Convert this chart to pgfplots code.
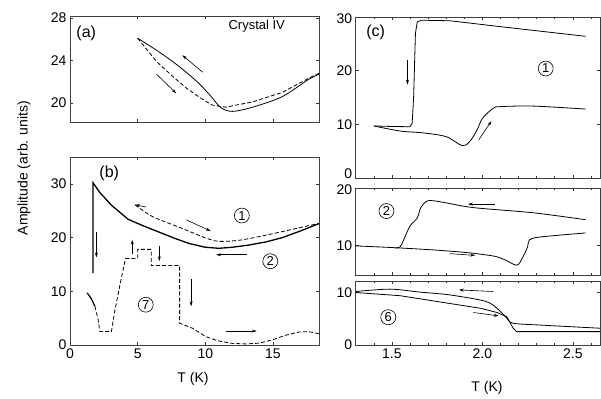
\documentclass[border=0pt]{standalone}
\usepackage{fontspec}
\setmainfont{Liberation Sans}
\usepackage{pgfplots}
\pgfplotsset{compat=1.18}
\usetikzlibrary{arrows.meta}
\tikzset{
  dsh/.style={dash pattern=on 4pt off 2.2pt},
  arr/.style={-{Stealth[length=5pt,width=3pt]}, line width=0.6pt},
  cnum/.style={circle, draw, line width=0.6pt, inner sep=1.2pt, font=\fontsize{13}{13}\selectfont}
}
\pgfplotsset{
  base/.style={scale only axis, tick align=inside,
    /pgf/number format/assume math mode=true,
    tick label style={font=\fontsize{14}{14}\selectfont},
    major tick length=3pt, minor tick length=2pt,
    tick style={black!80, line width=0.6pt},
    axis line style={black!75, line width=0.8pt},
    cycle list={{black, mark=none}},
    every axis plot/.append style={black, line width=0.8pt, mark=none},
    clip=true},
  leftp/.style={base, width=249pt, xmin=0, xmax=18.4, xtick={0,5,10,15}},
  rightp/.style={base, width=244.3pt, xmin=1.3, xmax=2.65, xtick={1.5,2.0,2.5},
    minor xtick={1.3,1.4,1.6,1.7,1.8,1.9,2.1,2.2,2.3,2.4,2.6},
    xticklabel style={/pgf/number format/.cd, fixed, fixed zerofill, precision=1}}
}
\begin{document}
\begin{tikzpicture}
\useasboundingbox (0pt,0pt) rectangle (601pt,-398pt);
% ---------- panel (a)
\begin{axis}[leftp, at={(70pt,-16pt)}, anchor=north west, height=106pt,
  ymin=18.2, ymax=28.2, ytick={20,24,28}, xticklabels={}]
\addplot[black, smooth] coordinates {(5.0,26.1) (6.0,25.3) (7.1,24.35) (8.3,23.2) (9.56,21.8) (10.5,20.5) (11.15,19.55) (12.0,19.2) (13.5,19.6) (15.7,20.6) (17.6,22.2) (18.4,22.7)};
\addplot[black, dsh] coordinates {(5.0,26.1) (6.4,23.9) (7.5,22.6) (8.6,21.4) (9.6,20.5) (10.5,19.8) (11.5,19.6) (13.5,20.1) (15.7,21.0) (17.6,22.3) (18.4,22.8)};
\draw[arr] (axis cs:9.8,22.9) -- (axis cs:8.3,24.5);
\draw[arr] (axis cs:6.4,22.7) -- (axis cs:7.85,20.9);
\node[font=\fontsize{16}{16}\selectfont] at (axis cs:1.2,26.6) {(a)};
\node[font=\fontsize{13}{13}\selectfont] at (axis cs:13.8,27.2) {Crystal IV};
\end{axis}
% ---------- panel (b)
\begin{axis}[leftp, at={(70pt,-157pt)}, anchor=north west, height=188pt,
  ymin=0, ymax=35, ytick={0,10,20,30}]
\addplot[black, line width=1.3pt] coordinates {(1.7,13.4) (1.7,30.2) (2.2,28.4) (3.07,26.0) (4.3,23.4) (5.4,22.2) (6.6,21.0) (7.8,19.8) (8.8,18.9) (10.0,18.2) (11.0,18.0) (12.0,18.2) (13.2,18.6) (14.5,19.2) (15.7,20.0) (17.0,21.2) (18.4,22.6)};
\addplot[black, dsh, smooth] coordinates {(4.8,26.1) (6.1,23.9) (8.1,21.9) (10.05,19.9) (11.0,19.3) (12.5,19.5) (14.2,20.3) (16.2,21.4) (17.6,22.2) (18.4,22.6)};
\addplot[black, line width=1.2pt, smooth] coordinates {(1.27,9.7) (1.55,8.7) (1.84,7.2)};
\addplot[black, dsh] coordinates {(1.84,7.2) (2.08,4.7) (2.2,2.5) (3.06,2.5) (3.3,6.2) (3.7,11.3) (4.1,16.1) (5.0,16.1) (5.0,17.8) (6.0,17.8) (6.0,14.8) (8.1,14.8) (8.1,4.05) (9.07,3.1) (10.0,1.6) (10.9,0.8) (12.0,0.3) (13.0,0.2) (14.0,0.35) (15.0,1.0) (15.9,1.8) (16.9,2.4) (17.6,2.5) (18.4,2.1)};
\draw[arr] (axis cs:1.95,21) -- (axis cs:1.95,16.3);
\draw[arr] (axis cs:5.6,25.7) -- (axis cs:4.8,26.1);
\draw[arr] (axis cs:8.6,23.3) -- (axis cs:10.4,21.2);
\draw[arr] (axis cs:13.1,16.8) -- (axis cs:10.8,16.8);
\draw[arr] (axis cs:4.6,16.9) -- (axis cs:4.6,19.6);
\draw[arr] (axis cs:6.6,18.4) -- (axis cs:6.6,15.6);
\draw[arr] (axis cs:8.95,12.2) -- (axis cs:8.95,7.2);
\draw[arr] (axis cs:11.5,2.6) -- (axis cs:13.8,2.6);
\node[cnum] at (axis cs:12.7,24.1) {1};
\node[cnum] at (axis cs:14.8,15.6) {2};
\node[cnum] at (axis cs:5.6,7.5) {7};
\node[font=\fontsize{16}{16}\selectfont] at (axis cs:2.9,32.0) {(b)};
\end{axis}
% ---------- panel (c) top
\begin{axis}[rightp, at={(355.7pt,-17pt)}, anchor=north west, height=161pt,
  ymin=0, ymax=30, ytick={0,10,20,30},
  yticklabels={\raisebox{4pt}[\height][\depth]{0},10,20,\raisebox{-2pt}[\height][\depth]{30}}, xticklabels={}]
\addplot[black] coordinates {(1.40,9.7) (1.50,9.6) (1.60,9.55) (1.612,10.2) (1.62,15) (1.63,26.9) (1.64,29.1) (1.665,29.4) (1.82,29.3) (2.1,28.2) (2.57,26.4)};
\addplot[black, smooth] coordinates {(1.40,9.7) (1.546,8.75) (1.675,8.4) (1.80,7.7) (1.89,6.0) (1.93,6.8) (1.97,8.9) (2.0,11.1) (2.06,13.0) (2.10,13.3) (2.28,13.4) (2.57,12.85)};
\draw[arr] (axis cs:1.586,22) -- (axis cs:1.586,17.4);
\draw[arr] (axis cs:1.98,7.1) -- (axis cs:2.05,10.6);
\node[cnum] at (axis cs:2.35,20.4) {1};
\node[font=\fontsize{16}{16}\selectfont] at (axis cs:1.41,27.2) {(c)};
\end{axis}
% ---------- panel (c) middle
\begin{axis}[rightp, at={(355.7pt,-188pt)}, anchor=north west, height=87pt,
  ymin=4.9, ymax=20, ytick={10,20}, yticklabels={10,\raisebox{-1.5pt}[\height][\depth]{20}}, xticklabels={}]
\addplot[black, smooth] coordinates {(2.57,14.5) (2.28,15.7) (1.95,16.6) (1.785,17.5) (1.70,17.8) (1.66,16.6) (1.64,14.8) (1.60,13.4) (1.565,11.0) (1.546,9.8) (1.52,9.55)};
\addplot[black, smooth] coordinates {(1.30,9.95) (1.51,9.65) (1.73,9.25) (1.91,8.8) (2.06,8.2) (2.12,7.6) (2.19,6.6) (2.22,7.8) (2.25,9.8) (2.26,11.0) (2.32,11.5) (2.57,12.2)};
\draw[arr] (axis cs:2.07,17.2) -- (axis cs:1.92,17.2);
\draw[arr] (axis cs:1.82,8.6) -- (axis cs:1.96,8.3);
\node[cnum] at (axis cs:1.47,16) {2};
\end{axis}
% ---------- panel (c) bottom
\begin{axis}[rightp, at={(355.7pt,-281pt)}, anchor=north west, height=64pt,
  ymin=0, ymax=12.2, ytick={0,10}]
\addplot[black, smooth] coordinates {(1.30,10.2) (1.49,10.65) (1.65,10.1) (1.82,9.55) (2.02,8.3) (2.09,6.7) (2.135,5.1) (2.17,4.15) (2.32,3.8) (2.65,3.2)};
\addplot[black] coordinates {(1.30,10.0) (1.545,9.4) (1.785,8.1) (1.99,7.0) (2.08,6.2) (2.135,5.4) (2.17,3.2) (2.19,2.55) (2.65,2.55)};
\draw[arr] (axis cs:2.06,10.2) -- (axis cs:1.87,10.5);
\draw[arr] (axis cs:1.95,6.2) -- (axis cs:2.09,5.55);
\node[cnum] at (axis cs:1.48,5.3) {6};
\end{axis}
% ---------- labels
\node[rotate=90, font=\fontsize{14}{14}\selectfont] at (24pt,-168pt) {Amplitude (arb. units)};
\node[font=\fontsize{14}{14}\selectfont] at (193pt,-379pt) {T (K)};
\node[font=\fontsize{14}{14}\selectfont] at (487pt,-388pt) {T (K)};
\end{tikzpicture}
\end{document}
